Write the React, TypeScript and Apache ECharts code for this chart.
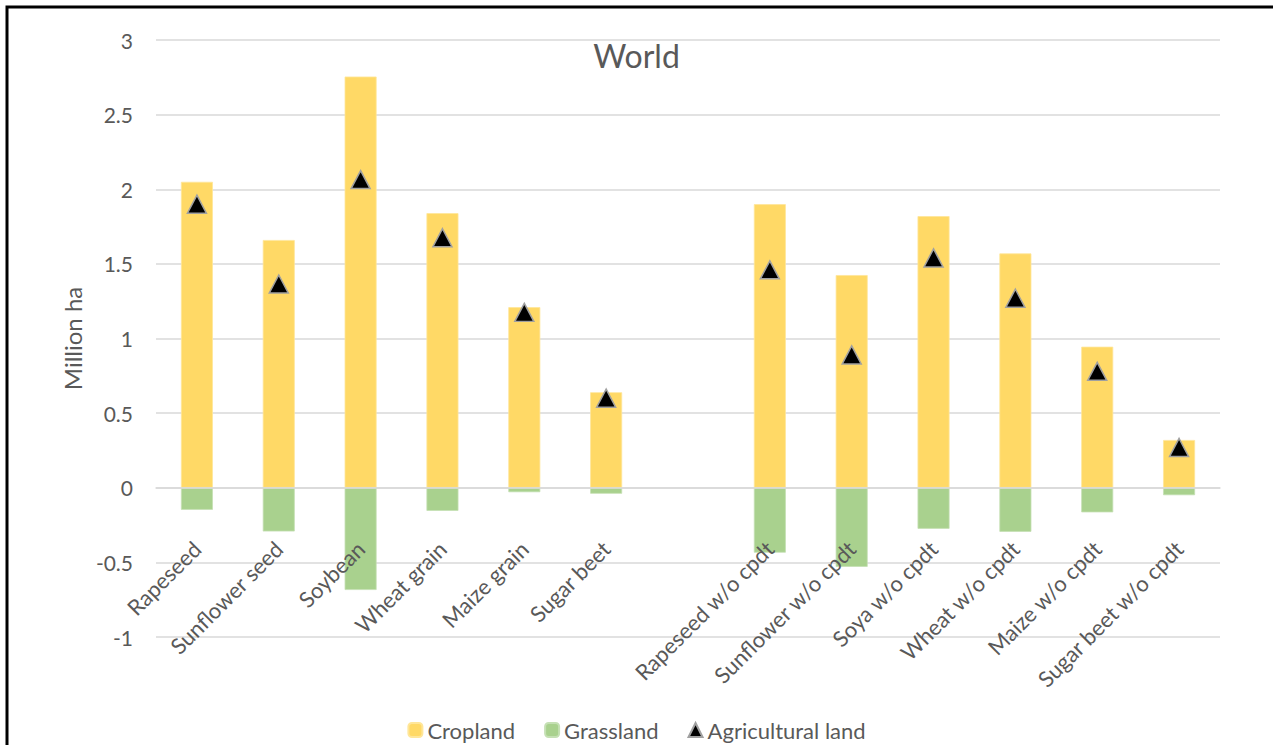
import React, { useEffect, useRef } from "react";
import * as echarts from "echarts";

const categories: string[] = [
  "Rapeseed",
  "Sunflower seed",
  "Soybean",
  "Wheat grain",
  "Maize grain",
  "Sugar beet",
  "",
  "Rapeseed w/o cpdt",
  "Sunflower w/o cpdt",
  "Soya w/o cpdt",
  "Wheat w/o cpdt",
  "Maize w/o cpdt",
  "Sugar beet w/o cpdt",
];

const cropland: (number | null)[] = [2.05, 1.66, 2.755, 1.84, 1.21, 0.64, null, 1.9, 1.425, 1.82, 1.57, 0.945, 0.32];
const grassland: (number | null)[] = [-0.148, -0.293, -0.685, -0.155, -0.03, -0.04, null, -0.435, -0.53, -0.275, -0.295, -0.165, -0.05];
const agricultural: (number | null)[] = [1.9, 1.365, 2.065, 1.675, 1.175, 0.6, null, 1.46, 0.89, 1.54, 1.27, 0.78, 0.27];

const FONT = "Lato";
const GREY = "#595959";

export default function App() {
  const ref = useRef<HTMLDivElement>(null);
  useEffect(() => {
    if (!ref.current) return;
    const chart = echarts.init(ref.current, null, { renderer: "svg" });
    chart.setOption({
      animation: false,
      backgroundColor: "#ffffff",
      textStyle: { fontFamily: FONT },
      title: {
        text: "World",
        left: "center",
        top: 34,
        textStyle: { fontFamily: FONT, fontSize: 32, fontWeight: "normal", color: GREY },
      },
      graphic: [
        {
          type: "rect",
          shape: { x: 7, y: 7, width: 1300, height: 800 },
          style: { fill: "none", stroke: "#000", lineWidth: 3 },
          silent: true,
        },
      ],
      legend: {
        left: "center",
        top: 719,
        padding: 0,
        itemWidth: 14,
        itemHeight: 14,
        itemGap: 29,
        textStyle: { fontFamily: FONT, fontSize: 22, color: GREY },
        data: ["Cropland", "Grassland", "Agricultural land"],
      },
      grid: { left: 156, right: 53, top: 40, bottom: 108, containLabel: false, outerBoundsMode: "none" },
      xAxis: {
        type: "category",
        data: categories,
        z: 20,
        axisTick: { show: false },
        axisLine: { show: true, onZero: true, lineStyle: { color: "#d9d9d9", width: 1.5 } },
        axisLabel: {
          interval: 0,
          rotate: 45,
          margin: -92,
          fontFamily: FONT,
          fontSize: 22,
          color: GREY,
        },
      },
      yAxis: {
        type: "value",
        min: -1,
        max: 3,
        interval: 0.5,
        name: "Million ha",
        nameLocation: "middle",
        nameRotate: 90,
        nameGap: 70,
        nameTextStyle: { fontFamily: FONT, fontSize: 24, color: GREY },
        axisLine: { show: false },
        axisTick: { show: false },
        axisLabel: { margin: 23, fontFamily: FONT, fontSize: 21, color: GREY },
        splitLine: { lineStyle: { color: "#d9d9d9", width: 1.5 } },
      },
      series: [
        {
          name: "Cropland",
          type: "bar",
          stack: "total",
          barWidth: 32,
          data: cropland,
          itemStyle: { color: "#FFD966", borderColor: "#FFE699", borderWidth: 0.8 },
        },
        {
          name: "Grassland",
          type: "bar",
          stack: "total",
          barWidth: 32,
          data: grassland,
          itemStyle: { color: "#A9D18E", borderColor: "#C5E0B4", borderWidth: 0.8 },
        },
        {
          name: "Agricultural land",
          type: "scatter",
          symbol: "triangle",
          symbolSize: [19, 18],
          data: agricultural,
          itemStyle: { color: "#000000", borderColor: "#a0a0a0", borderWidth: 1.5, opacity: 1 },
          z: 5,
        },
      ],
    });
    return () => chart.dispose();
  }, []);
  return (
    <div
      ref={ref}
      style={{ position: "absolute", left: 0, top: 0, width: 1273, height: 745 }}
    />
  );
}
